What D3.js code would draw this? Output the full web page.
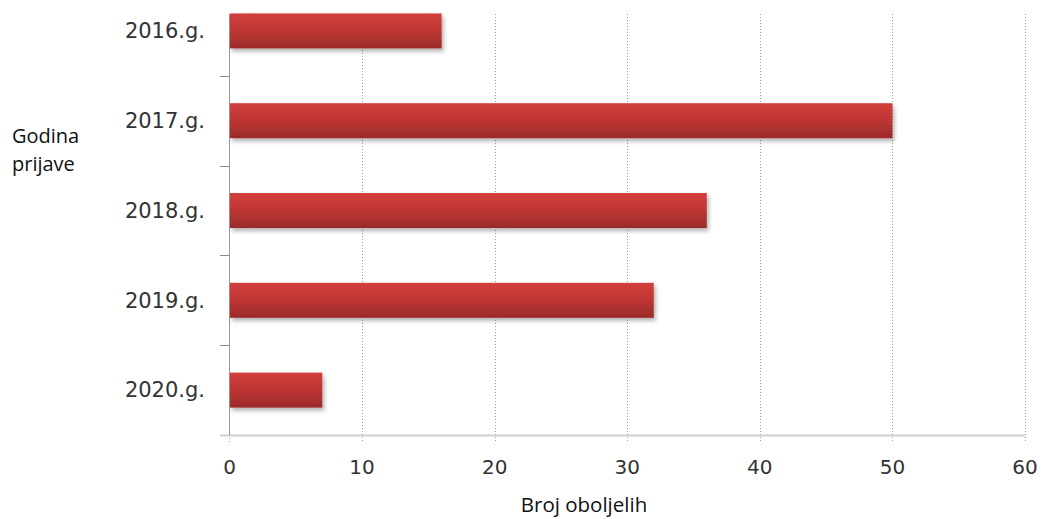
<!DOCTYPE html>
<html><head><meta charset="utf-8">
<script src="https://cdn.jsdelivr.net/npm/d3@7"></script>
<style>body{margin:0;background:#fff;}svg{display:block;}</style>
</head><body>
<svg id="c" width="1042" height="519"></svg>
<script>
const categories = ["2016.g.", "2017.g.", "2018.g.", "2019.g.", "2020.g."];
const values = [16, 50, 36, 32, 7];
const xTicks = [0, 10, 20, 30, 40, 50, 60];
const xTitle = "Broj oboljelih";
const yTitle = ["Godina", "prijave"];

const svg = d3.select("#c");
const x = d3.scaleLinear().domain([0, 60]).range([229.5, 1025]);
const y = d3.scaleBand().domain(categories).range([-14, 435]).paddingInner(0.61).paddingOuter(0.305);
const step = y.step();
const plotTop = 14, plotBottom = 435;

const defs = svg.append("defs");
const g = defs.append("linearGradient").attr("id","barGrad").attr("x1",0).attr("y1",0).attr("x2",0).attr("y2",1);
g.append("stop").attr("offset","0%").attr("stop-color","#d2403c");
g.append("stop").attr("offset","45%").attr("stop-color","#c03634");
g.append("stop").attr("offset","100%").attr("stop-color","#9b2b2a");
const f = defs.append("filter").attr("id","sh").attr("x","-5%").attr("y","-20%").attr("width","115%").attr("height","160%");
f.append("feDropShadow").attr("dx",2).attr("dy",3).attr("stdDeviation",2).attr("flood-color","#000").attr("flood-opacity",0.3);

// gridlines
svg.append("g").selectAll("line").data(xTicks.slice(1)).join("line")
  .attr("x1", d=>Math.round(x(d))+0.5).attr("x2", d=>Math.round(x(d))+0.5)
  .attr("y1", plotTop).attr("y2", plotBottom+7)
  .attr("stroke","#9a9a9a").attr("stroke-width",1).attr("stroke-dasharray","1,2");
svg.append("line").attr("x1",229.5).attr("x2",229.5).attr("y1",plotBottom).attr("y2",plotBottom+7)
  .attr("stroke","#9a9a9a").attr("stroke-dasharray","1,2");

// x axis baseline
svg.append("line").attr("x1",220).attr("x2",x(60)).attr("y1",plotBottom+0.5).attr("y2",plotBottom+0.5)
  .attr("stroke","#cfcfcf").attr("stroke-width",2);
// y axis line
svg.append("line").attr("x1",229.5).attr("x2",229.5).attr("y1",plotTop).attr("y2",plotBottom)
  .attr("stroke","#9a9a9a").attr("stroke-width",1);
// y ticks at band boundaries
svg.append("g").selectAll("line").data(categories.slice(0,4)).join("line")
  .attr("x1",220).attr("x2",229)
  .attr("y1", d=> Math.round(y(d) + y.bandwidth()/2 + step/2)+0.5)
  .attr("y2", d=> Math.round(y(d) + y.bandwidth()/2 + step/2)+0.5)
  .attr("stroke","#8a8a8a");

// bars
svg.append("g").selectAll("rect").data(categories).join("rect")
  .attr("x", x(0)+0.5).attr("y", d=>y(d))
  .attr("width", (d,i)=> x(values[i]) - x(0) - 0.5)
  .attr("height", y.bandwidth())
  .attr("fill","url(#barGrad)").attr("filter","url(#sh)");

// y labels
svg.append("g").selectAll("text").data(categories).join("text")
  .attr("x", 205).attr("y", d=>y(d)+y.bandwidth()/2)
  .attr("dy","0.35em").attr("text-anchor","end")
  .attr("font-family","DejaVu Sans").attr("font-size",21).attr("fill","#333")
  .text(d=>d);

// x labels
svg.append("g").selectAll("text").data(xTicks).join("text")
  .attr("x", d=>x(d)).attr("y", 474)
  .attr("text-anchor","middle")
  .attr("font-family","DejaVu Sans").attr("font-size",20).attr("fill","#333")
  .text(d=>d);

// titles
svg.append("text").attr("x",584).attr("y",512).attr("text-anchor","middle")
  .attr("font-family","Open Sans").attr("font-size",20.5).attr("fill","#111").text(xTitle);
svg.append("text").attr("font-family","Open Sans").attr("font-size",20).attr("fill","#111")
  .selectAll("tspan").data(yTitle).join("tspan")
  .attr("x",12).attr("y",(d,i)=>143+i*28).text(d=>d);
</script>
</body></html>
